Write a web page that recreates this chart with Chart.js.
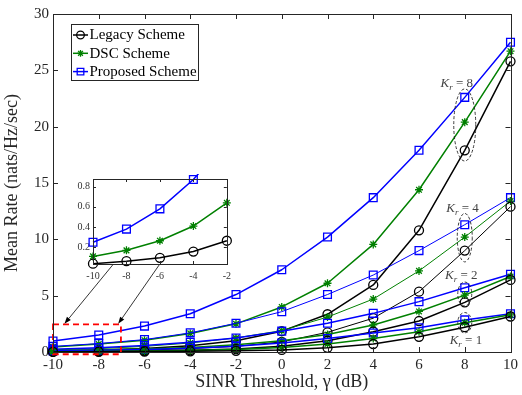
<!DOCTYPE html>
<html>
<head>
<meta charset="utf-8">
<script src="https://cdn.jsdelivr.net/npm/chart.js@4.4.1/dist/chart.umd.min.js"></script>
<style>
  body { margin: 0; background: #fff; }
  #wrap { position: relative; width: 522px; height: 395px; }
  #main { position: absolute; left: 0; top: 0; }
  #inset { position: absolute; left: 62px; top: 170px; }
</style>
</head>
<body>
<div id="wrap">
  <canvas id="main" width="522" height="395"></canvas>
  <canvas id="inset" width="175" height="112"></canvas>
</div>
<script>
// SINR threshold (dB)
var snr = [-10, -8, -6, -4, -2, 0, 2, 4, 6, 8, 10];
var xTicks = [-10, -8, -6, -4, -2, 0, 2, 4, 6, 8, 10];
var yTicks = [0, 5, 10, 15, 20, 25, 30];
var insetXTicks = [-10, -8, -6, -4, -2];
var insetYTicks = [0.2, 0.4, 0.6, 0.8];

// mean rate, K_r = 1
var legacyK1   = [0.01, 0.02, 0.035, 0.06, 0.1, 0.18, 0.37, 0.71, 1.35, 2.2, 3.15];
var dscK1      = [0.03, 0.05, 0.08, 0.14, 0.23, 0.4, 0.72, 1.2, 1.8, 2.6, 3.3];
var proposedK1 = [0.1, 0.15, 0.22, 0.34, 0.5, 0.8, 1.2, 1.68, 2.15, 2.85, 3.4];
// K_r = 2
var legacyK2   = [0.038, 0.063, 0.096, 0.158, 0.265, 0.5, 1.0, 1.8, 2.75, 4.4, 6.4];
var dscK2      = [0.11, 0.17, 0.265, 0.41, 0.64, 1.0, 1.55, 2.4, 3.6, 5.05, 6.7];
var proposedK2 = [0.25, 0.38, 0.58, 0.87, 1.25, 1.85, 2.55, 3.43, 4.47, 5.7, 6.9];
// K_r = 4
var legacyK4   = [0.06, 0.1, 0.17, 0.3, 0.5, 0.9, 1.75, 3.0, 5.35, 9.0, 12.9];
var dscK4      = [0.2, 0.3, 0.5, 0.8, 1.25, 1.9, 3.1, 4.7, 7.2, 10.2, 13.4];
var proposedK4 = [0.5, 0.75, 1.1, 1.7, 2.55, 3.58, 5.1, 6.83, 9.0, 11.3, 13.7];
// K_r = 8
var legacyK8   = [0.1, 0.17, 0.3, 0.55, 1.0, 1.85, 3.35, 5.95, 10.8, 17.9, 25.8];
var dscK8      = [0.45, 0.7, 1.05, 1.65, 2.5, 4.0, 6.1, 9.55, 14.4, 20.4, 26.7];
var proposedK8 = [0.97, 1.5, 2.3, 3.4, 5.1, 7.3, 10.2, 13.7, 17.9, 22.6, 27.5];

var schemeNames = ['Legacy Scheme', 'DSC Scheme', 'Proposed Scheme'];
var krLabels = ['1', '2', '4', '8'];

var BLACK = '#000000', GREEN = '#008000', BLUE = '#0000ff';
var AXIS = '#262626';
var SERIF = '"Liberation Serif", "Times New Roman", serif';

var styles = [
  { color: BLACK, pointStyle: 'circle', radius: 4.5 },
  { color: GREEN, pointStyle: 'star', radius: 4 },
  { color: BLUE, pointStyle: 'rect', radius: 5.5 }
];

function series(data, s, width, xs) {
  xs = xs || snr;
  return {
    data: xs.map(function (x, i) { return { x: x, y: data[i] }; }),
    borderColor: s.color,
    borderWidth: width,
    pointStyle: s.pointStyle,
    pointRadius: s.radius,
    pointBorderColor: s.color,
    pointBackgroundColor: 'rgba(0,0,0,0)',
    pointBorderWidth: 1.3,
    fill: false,
    tension: 0,
    clip: false
  };
}

var groups = [
  [legacyK1, dscK1, proposedK1, 1.5],
  [legacyK2, dscK2, proposedK2, 1.5],
  [legacyK4, dscK4, proposedK4, 1],
  [legacyK8, dscK8, proposedK8, 1.5]
];
var mainSets = [];
groups.forEach(function (g) {
  for (var k = 0; k < 3; k++) mainSets.push(series(g[k], styles[k], g[3]));
});

// box with inward ticks (matlab look)
function drawBox(chart, len, xt, yt) {
  var ctx = chart.ctx, a = chart.chartArea;
  var sx = chart.scales.x, sy = chart.scales.y;
  ctx.save();
  ctx.strokeStyle = AXIS;
  ctx.lineWidth = 1;
  ctx.beginPath();
  xt.forEach(function (v) {
    var px = Math.round(sx.getPixelForValue(v)) + 0.5;
    ctx.moveTo(px, a.bottom); ctx.lineTo(px, a.bottom - len);
    ctx.moveTo(px, a.top); ctx.lineTo(px, a.top + len);
  });
  yt.forEach(function (v) {
    var py = Math.round(sy.getPixelForValue(v)) + 0.5;
    ctx.moveTo(a.left, py); ctx.lineTo(a.left + len, py);
    ctx.moveTo(a.right, py); ctx.lineTo(a.right - len, py);
  });
  ctx.stroke();
  ctx.strokeRect(Math.round(a.left) + 0.5, Math.round(a.top) + 0.5,
    Math.round(a.right - a.left), Math.round(a.bottom - a.top));
  ctx.restore();
}

function drawKr(ctx, cx, cy, n) {
  ctx.save();
  ctx.fillStyle = '#444';
  ctx.textBaseline = 'alphabetic';
  var f1 = 'italic 13px ' + SERIF, f2 = 'italic 9px ' + SERIF, f3 = '13px ' + SERIF;
  ctx.font = f1; var w1 = ctx.measureText('K').width;
  ctx.font = f2; var w2 = ctx.measureText('r').width;
  ctx.font = f3; var w3 = ctx.measureText(' = ' + n).width;
  var x = cx - (w1 + w2 + w3) / 2, y = cy + 4;
  ctx.font = f1; ctx.fillText('K', x, y); x += w1;
  ctx.font = f2; ctx.fillText('r', x, y + 3); x += w2;
  ctx.font = f3; ctx.fillText(' = ' + n, x, y);
  ctx.restore();
}

function arrow(ctx, x1, y1, x2, y2) {
  var ang = Math.atan2(y2 - y1, x2 - x1), L = 7, W = 2.5;
  ctx.beginPath();
  ctx.moveTo(x1, y1);
  ctx.lineTo(x2 - L * Math.cos(ang), y2 - L * Math.sin(ang));
  ctx.stroke();
  ctx.beginPath();
  ctx.moveTo(x2, y2);
  ctx.lineTo(x2 - L * Math.cos(ang) + W * Math.sin(ang), y2 - L * Math.sin(ang) - W * Math.cos(ang));
  ctx.lineTo(x2 - L * Math.cos(ang) - W * Math.sin(ang), y2 - L * Math.sin(ang) + W * Math.cos(ang));
  ctx.closePath();
  ctx.fill();
}

var decorPlugin = {
  id: 'decor',
  afterDatasetsDraw: function (chart) {
    var ctx = chart.ctx, sx = chart.scales.x, sy = chart.scales.y;
    var X = function (v) { return sx.getPixelForValue(v); };
    var Y = function (v) { return sy.getPixelForValue(v); };

    // dashed ellipses around x = 8
    ctx.save();
    ctx.strokeStyle = '#222';
    ctx.lineWidth = 0.9;
    ctx.setLineDash([3, 2]);
    [[20.15, 3.2, 11], [10.15, 2.15, 7.5], [5.15, 1.06, 7], [2.6, 0.9, 7]].forEach(function (e) {
      var cy = Y(e[0]), ry = Y(e[0] - e[1]) - cy;
      ctx.beginPath();
      ctx.ellipse(X(8), cy, e[2], ry, 0, 0, Math.PI * 2);
      ctx.stroke();
    });
    ctx.restore();

    drawKr(ctx, X(7.65), Y(23.9), krLabels[3]);
    drawKr(ctx, X(7.9), Y(12.75), krLabels[2]);
    drawKr(ctx, X(7.85), Y(6.8), krLabels[1]);
    drawKr(ctx, X(8.05), Y(1.1), krLabels[0]);

    // red zoom box
    ctx.save();
    ctx.strokeStyle = '#ff0000';
    ctx.lineWidth = 1.8;
    ctx.setLineDash([6, 4]);
    ctx.strokeRect(X(-10), Y(2.45), X(-7.03) - X(-10), Y(-0.2) - Y(2.45));
    ctx.restore();

    // arrows from inset to box
    ctx.save();
    ctx.strokeStyle = '#000';
    ctx.fillStyle = '#000';
    ctx.lineWidth = 0.8;
    arrow(ctx, X(-7.38), Y(7.75), X(-9.5), Y(2.5));
    arrow(ctx, X(-5.35), Y(7.75), X(-7.15), Y(2.5));
    ctx.restore();
  },
  afterDraw: function (chart) {
    drawBox(chart, 5, xTicks, yTicks);
    var ctx = chart.ctx;
    // legend
    var lx = 71, ly = 24, lw = 127, lh = 56;
    ctx.save();
    ctx.fillStyle = '#fff';
    ctx.fillRect(lx, ly, lw, lh);
    ctx.strokeStyle = AXIS;
    ctx.lineWidth = 1;
    ctx.strokeRect(lx + 0.5, ly + 0.5, lw, lh);
    ctx.font = '15px ' + SERIF;
    ctx.textBaseline = 'middle';
    for (var k = 0; k < 3; k++) {
      var y = ly + 11 + k * 18.3, s = styles[k];
      ctx.strokeStyle = s.color;
      ctx.lineWidth = 1.5;
      ctx.beginPath();
      ctx.moveTo(lx + 2, y); ctx.lineTo(lx + 17, y);
      ctx.stroke();
      ctx.fillStyle = 'rgba(0,0,0,0)';
      ctx.lineWidth = 1.3;
      Chart.helpers.drawPoint(ctx, { pointStyle: s.pointStyle, radius: s.radius * 0.85, rotation: 0, borderWidth: 1.3 }, lx + 9.5, y);
      ctx.fillStyle = '#000';
      ctx.fillText(schemeNames[k], lx + 18.5, y + 0.5);
    }
    ctx.restore();
  }
};

var tickFont = { family: SERIF, size: 15 };

new Chart(document.getElementById('main'), {
  type: 'line',
  data: { datasets: mainSets },
  options: {
    responsive: false,
    animation: false,
    devicePixelRatio: 1,
    layout: { padding: { top: 14, right: 6, left: 0, bottom: 0 } },
    plugins: { legend: { display: false }, tooltip: { enabled: false } },
    elements: { line: { borderJoinStyle: 'round' } },
    scales: {
      x: {
        type: 'linear', min: -10, max: 10,
        afterBuildTicks: function (s) { s.ticks = xTicks.map(function (v) { return { value: v }; }); },
        afterFit: function (s) { s.height = 43; },
        grid: { display: false, drawTicks: false },
        border: { display: false },
        ticks: { padding: 4, font: tickFont, color: AXIS, maxRotation: 0 },
        title: { display: true, text: 'SINR Threshold, \u03b3 (dB)', font: { family: SERIF, size: 18 }, color: AXIS, padding: { top: 0, bottom: 2 } }
      },
      y: {
        type: 'linear', min: 0, max: 30,
        afterBuildTicks: function (s) { s.ticks = yTicks.map(function (v) { return { value: v }; }); },
        afterFit: function (s) { s.width = 53; },
        grid: { display: false, drawTicks: false },
        border: { display: false },
        ticks: { padding: 4, font: tickFont, color: AXIS },
        title: { display: true, text: 'Mean Rate (nats/Hz/sec)', font: { family: SERIF, size: 18 }, color: AXIS, padding: { top: 1, bottom: 0 } }
      }
    }
  },
  plugins: [decorPlugin]
});

// inset: K_r = 2 at low SINR
var insetX = snr.slice(0, 5);
var insetSets = [
  series(legacyK2.slice(0, 5), styles[0], 1.5, insetX),
  series(dscK2.slice(0, 5), styles[1], 1.5, insetX),
  series(proposedK2.slice(0, 5), styles[2], 1.5, insetX)
];
insetSets.forEach(function (d) { d.clip = { left: 6, right: 6, bottom: 6, top: 5 }; });

var insetPlugin = {
  id: 'insetBox',
  beforeDatasetsDraw: function (chart) {
    var a = chart.chartArea, ctx = chart.ctx;
    ctx.save();
    ctx.fillStyle = '#fff';
    ctx.fillRect(a.left, a.top, a.right - a.left, a.bottom - a.top);
    ctx.restore();
  },
  afterDraw: function (chart) { drawBox(chart, 3, insetXTicks, insetYTicks); }
};

var insetFont = { family: SERIF, size: 10 };
new Chart(document.getElementById('inset'), {
  type: 'line',
  data: { datasets: insetSets },
  options: {
    responsive: false,
    animation: false,
    devicePixelRatio: 1,
    layout: { padding: { top: 9, right: 8, left: 0, bottom: 0 } },
    plugins: { legend: { display: false }, tooltip: { enabled: false } },
    scales: {
      x: {
        type: 'linear', min: -10, max: -2,
        afterBuildTicks: function (s) { s.ticks = insetXTicks.map(function (v) { return { value: v }; }); },
        afterFit: function (s) { s.height = 18; },
        grid: { display: false, drawTicks: false },
        border: { display: false },
        ticks: { padding: 6, font: insetFont, color: '#333', maxRotation: 0 }
      },
      y: {
        type: 'linear', min: 0.035, max: 0.875,
        afterBuildTicks: function (s) { s.ticks = insetYTicks.map(function (v) { return { value: v }; }); },
        afterFit: function (s) { s.width = 31; },
        grid: { display: false, drawTicks: false },
        border: { display: false },
        ticks: { padding: 3, font: insetFont, color: '#333', callback: function (v) { return v.toFixed(1); } }
      }
    }
  },
  plugins: [insetPlugin]
});
</script>
</body>
</html>
